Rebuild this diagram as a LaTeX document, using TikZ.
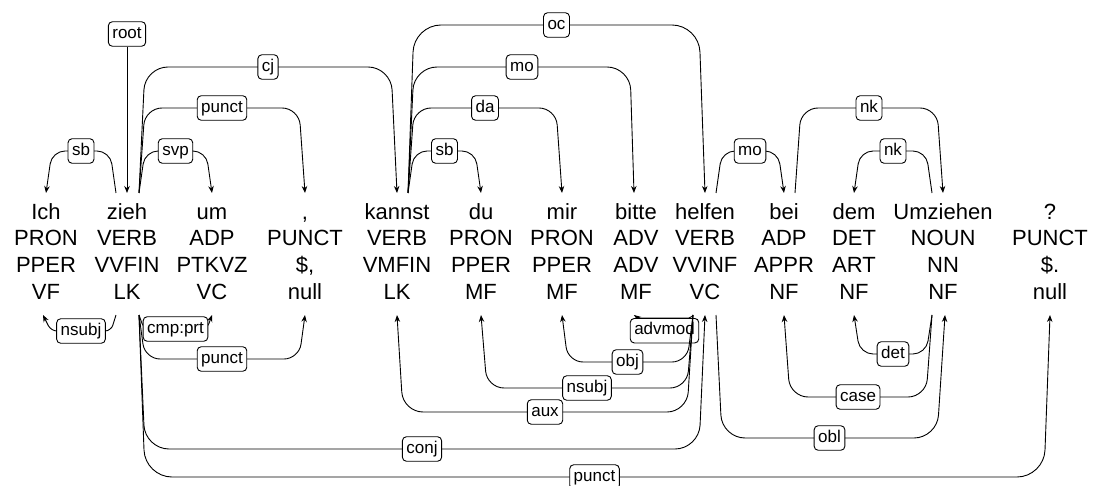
\documentclass[tikz,border=0pt]{standalone}
\usepackage{fontspec}
\setmainfont{Liberation Sans}
\usetikzlibrary{arrows.meta}

\begin{document}
\begin{tikzpicture}[x=1pt,y=-1pt,
    word/.style={align=center,font=\fontsize{22}{26.7}\selectfont,inner xsep=0pt,inner ysep=7.6pt,outer sep=0pt},
    lab/.style={draw,fill=white,rounded corners=4pt,font=\fontsize{17}{19}\selectfont,inner xsep=4pt,inner ysep=4pt,text height=12.5pt,text depth=4pt,line width=0.9pt},
    dep/.style={draw,line width=0.9pt,rounded corners=#1pt,-{Stealth[length=7pt,width=5.5pt]}}]
  \useasboundingbox (0,0) rectangle (1094,486);
  \node[word] (ich) at (46,254) {\strut Ich\\PRON\\PPER\\VF\strut};
  \node[word] (zieh) at (127,254) {\strut zieh\\VERB\\VVFIN\\LK\strut};
  \node[word] (um) at (212,254) {\strut um\\ADP\\PTKVZ\\VC\strut};
  \node[word] (comma) at (305,254) {\strut ,\\PUNCT\\\$,\\null\strut};
  \node[word] (kannst) at (397,254) {\strut kannst\\VERB\\VMFIN\\LK\strut};
  \node[word] (du) at (481,254) {\strut du\\PRON\\PPER\\MF\strut};
  \node[word] (mir) at (562,254) {\strut mir\\PRON\\PPER\\MF\strut};
  \node[word] (bitte) at (636,254) {\strut bitte\\ADV\\ADV\\MF\strut};
  \node[word] (helfen) at (705,254) {\strut helfen\\VERB\\VVINF\\VC\strut};
  \node[word] (bei) at (784,254) {\strut bei\\ADP\\APPR\\NF\strut};
  \node[word] (dem) at (854,254) {\strut dem\\DET\\ART\\NF\strut};
  \node[word] (umziehen) at (943,254) {\strut Umziehen\\NOUN\\NN\\NF\strut};
  \node[word] (qmark) at (1050,254) {\strut ?\\PUNCT\\\$.\\null\strut};

  \node[lab] (root) at (127,34) {root};
  \draw[dep=0] (root) -- (zieh.north);

  \draw[dep=13] ([xshift=-11pt]zieh.north) -- ++(-6,-42) -- node[lab]{sb} ([shift={(6,-42)}]ich.north) -- (ich.north);
  \draw[dep=13] ([xshift=12pt]zieh.north) -- ++(6,-42) -- node[lab]{svp} ([shift={(-6,-42)}]um.north) -- (um.north);
  \draw[dep=17] ([xshift=12pt]zieh.north) -- ++(6,-85) -- node[lab]{punct} ([shift={(-6,-85)}]comma.north) -- (comma.north);
  \draw[dep=23] ([xshift=12pt]zieh.north) -- ++(6,-126) -- node[lab]{cj} ([shift={(-6,-126)}]kannst.north) -- (kannst.north);
  \draw[dep=13] ([xshift=11pt]kannst.north) -- ++(6,-42) -- node[lab]{sb} ([shift={(-6,-42)}]du.north) -- (du.north);
  \draw[dep=17] ([xshift=11pt]kannst.north) -- ++(6,-85) -- node[lab]{da} ([shift={(-6,-85)}]mir.north) -- (mir.north);
  \draw[dep=23] ([xshift=11pt]kannst.north) -- ++(6,-126) -- node[lab]{mo} ([shift={(-6,-126)}]bitte.north) -- ([xshift=-2pt]bitte.north);
  \draw[dep=27] ([xshift=11pt]kannst.north) -- ++(6,-168) -- node[lab]{oc} ([shift={(-6,-168)}]helfen.north) -- (helfen.north);
  \draw[dep=13] ([xshift=11pt]helfen.north) -- ++(6,-42) -- node[lab]{mo} ([shift={(-6,-42)}]bei.north) -- (bei.north);
  \draw[dep=17] ([xshift=11pt]bei.north) -- ++(6,-85) -- node[lab]{nk} ([shift={(-6,-85)}]umziehen.north) -- (umziehen.north);
  \draw[dep=13] ([xshift=-11pt]umziehen.north) -- ++(-6,-42) -- node[lab]{nk} ([shift={(6,-42)}]dem.north) -- (dem.north);

  \draw[dep=6] ([xshift=-11pt]zieh.south) -- ++(-5,16) -- node[lab]{nsubj} ([shift={(5,16)}]ich.south) -- ([xshift=-3pt]ich.south);
  \draw[dep=6] ([xshift=12pt]zieh.south) -- ++(5,14) -- node[lab]{cmp:prt} ([shift={(-5,14)}]um.south) -- (um.south);
  \draw[dep=15] ([xshift=12pt]zieh.south) -- ++(6,44) -- node[lab]{punct} ([shift={(-6,44)}]comma.south) -- (comma.south);
  \draw[dep=24] ([xshift=12pt]zieh.south) -- ++(6,134) -- node[lab]{conj} ([shift={(-6,134)}]helfen.south) -- (helfen.south);
  \draw[dep=27] ([xshift=12pt]zieh.south) -- ++(6,162) -- node[lab]{punct} ([shift={(-6,162)}]qmark.south) -- (qmark.south);
  \draw[dep=2] ([xshift=-12pt]helfen.south) -- ++(-2,3) -- node[lab,anchor=north]{advmod} ([shift={(2,3)}]bitte.south) -- ([xshift=-2pt]bitte.south);
  \draw[dep=15] ([xshift=-12pt]helfen.south) -- ++(-6,47) -- node[lab]{obj} ([shift={(6,47)}]mir.south) -- (mir.south);
  \draw[dep=17] ([xshift=-12pt]helfen.south) -- ++(-6,73) -- node[lab]{nsubj} ([shift={(6,73)}]du.south) -- (du.south);
  \draw[dep=20] ([xshift=-12pt]helfen.south) -- ++(-6,97) -- node[lab]{aux} ([shift={(6,97)}]kannst.south) -- (kannst.south);
  \draw[dep=23] ([xshift=11pt]helfen.south) -- ++(6,123) -- node[lab]{obl} ([shift={(-6,123)}]umziehen.south) -- ([xshift=2pt]umziehen.south);
  \draw[dep=18] ([xshift=-11pt]umziehen.south) -- ++(-6,82) -- node[lab]{case} ([shift={(6,82)}]bei.south) -- (bei.south);
  \draw[dep=13] ([xshift=-11pt]umziehen.south) -- ++(-6,39) -- node[lab]{det} ([shift={(6,39)}]dem.south) -- (dem.south);
\end{tikzpicture}
\end{document}
